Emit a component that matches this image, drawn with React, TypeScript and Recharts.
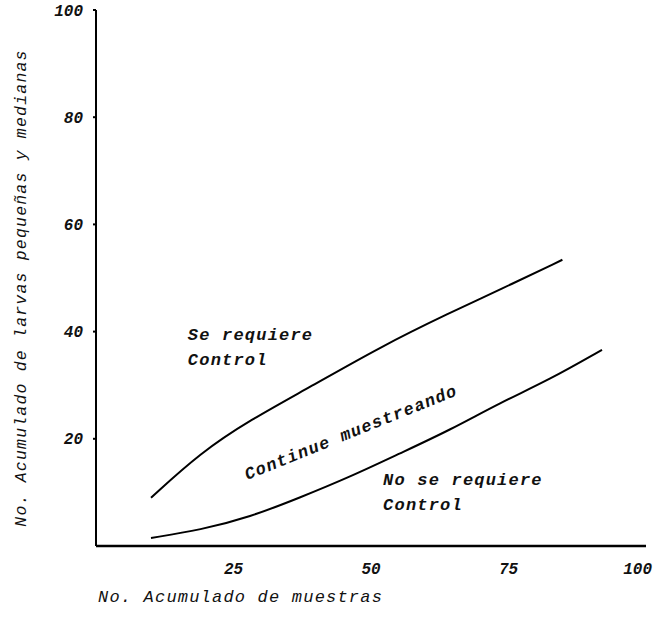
import React from "react";
import {
  LineChart,
  Line,
  XAxis,
  YAxis,
  ReferenceDot,
} from "recharts";

// upper boundary: above it control is required
const upperX = [10, 19, 28, 39, 51.6, 64.3, 73.4, 84.8];
const upperY = [9, 17.4, 23.5, 29.7, 37.1, 43.5, 47.8, 53.4];

// lower boundary: below it no control is required
const lowerX = [10, 19, 28, 37, 46.2, 55.3, 64.3, 73.4, 82.4, 92];
const lowerY = [1.5, 3, 5.4, 9, 12.9, 17.3, 21.6, 26.7, 31, 36.6];

const xTicks = [25, 50, 75, 100];
const yTicks = [20, 40, 60, 80, 100];

const xTitle = "No. Acumulado de muestras";
const yTitle = "No. Acumulado de larvas pequeñas y medianas";

const notes = [
  { x: 16.7, y: 38.4, text: "Se requiere", angle: 0 },
  { x: 16.7, y: 33.8, text: "Control", angle: 0 },
  { x: 52.2, y: 11.4, text: "No se requiere", angle: 0 },
  { x: 52.2, y: 6.7, text: "Control", angle: 0 },
  { x: 27.5, y: 12.3, text: "Continue  muestreando", angle: -22 },
];

const upperData = upperX.map((x, i) => ({ x, y: upperY[i] }));
const lowerData = lowerX.map((x, i) => ({ x, y: lowerY[i] }));

const FONT = "'Liberation Mono', 'DejaVu Sans Mono', monospace";

const textStyle: React.CSSProperties = {
  fontFamily: FONT,
  fontStyle: "italic",
  fontSize: 17,
  letterSpacing: 1.2,
};

const XTick = (props: any) => {
  const { x, y, payload } = props;
  const last = payload.value === 100;
  return (
    <text
      x={last ? x + 9 : x}
      y={y}
      dy={12}
      textAnchor={last ? "end" : "middle"}
      style={styles.tick}
      fill="#111"
    >
      {payload.value}
    </text>
  );
};

const App: React.FC = () => {
  return (
    <div style={styles.page}>
      <LineChart
        width={655}
        height={630}
        margin={{ top: 10, right: 9, bottom: 54, left: 36 }}
      >
        <XAxis
          dataKey="x"
          type="number"
          domain={[0, 100]}
          ticks={xTicks}
          tickLine={false}
          tickMargin={10}
          height={30}
          stroke="#000"
          strokeWidth={2.5}
          tick={<XTick />}
          label={{
            content: () => (
              <text x={98} y={602} style={{ ...textStyle }} fill="#111">
                {xTitle}
              </text>
            ),
          }}
        />
        <YAxis
          type="number"
          width={60}
          domain={[0, 100]}
          ticks={yTicks}
          tickSize={3}
          tickMargin={10}
          stroke="#000"
          strokeWidth={2}
          tick={{ ...styles.tick, fill: "#111" }}
          label={{
            content: () => (
              <text
                x={0}
                y={0}
                transform="translate(26 288) rotate(-90)"
                textAnchor="middle"
                style={{ ...textStyle, fontSize: 16.5 }}
                fill="#111"
              >
                {yTitle}
              </text>
            ),
          }}
        />
        <Line
          data={upperData}
          dataKey="y"
          type="basis"
          stroke="#000"
          strokeWidth={2}
          dot={false}
          isAnimationActive={false}
        />
        <Line
          data={lowerData}
          dataKey="y"
          type="basis"
          stroke="#000"
          strokeWidth={2}
          dot={false}
          isAnimationActive={false}
        />
        {notes.map((n, i) => (
          <ReferenceDot
            key={i}
            x={n.x}
            y={n.y}
            r={0}
            stroke="none"
            fill="none"
            label={{
              content: (p: any) => {
                const vb = p.viewBox || {};
                const cx = vb.x ?? vb.cx ?? 0;
                const cy = vb.y ?? vb.cy ?? 0;
                return (
                  <text
                    x={cx}
                    y={cy}
                    transform={`rotate(${n.angle} ${cx} ${cy})`}
                    style={{ ...textStyle, fontWeight: "bold" }}
                    fill="#111"
                  >
                    {n.text}
                  </text>
                );
              },
            }}
          />
        ))}
      </LineChart>
    </div>
  );
};

const styles: { [key: string]: React.CSSProperties } = {
  page: {
    position: "absolute",
    left: 0,
    top: 0,
    width: 655,
    height: 630,
    background: "#fff",
  },
  tick: {
    fontFamily: FONT,
    fontStyle: "italic",
    fontWeight: "bold",
    fontSize: 16,
  },
};

export default App;
